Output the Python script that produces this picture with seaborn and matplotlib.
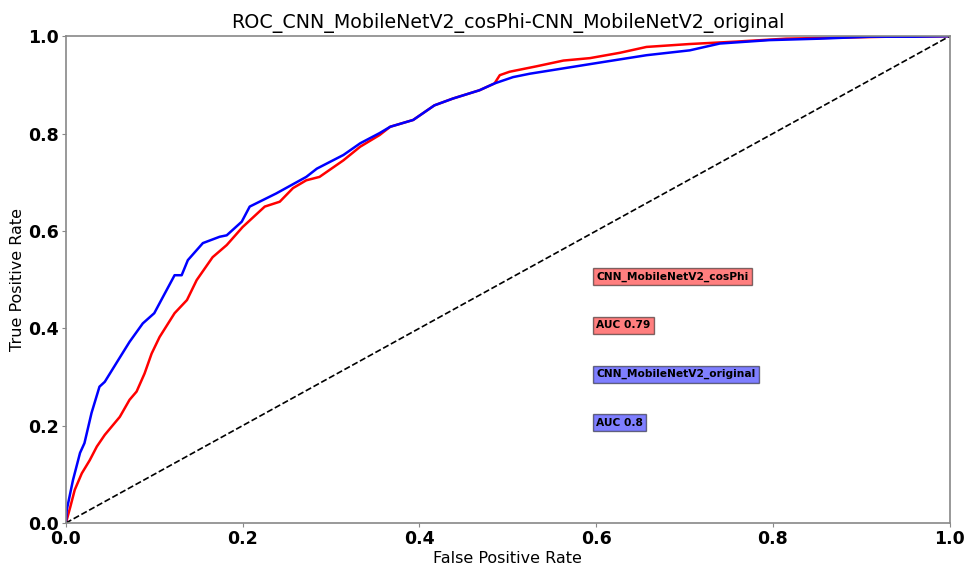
import matplotlib
matplotlib.use('Agg')
import matplotlib.pyplot as plt
import seaborn as sns
import pandas as pd

sns.set_style("white")
plt.rcParams['font.family'] = ['DejaVu Sans']
plt.rcParams['text.color'] = 'black'
plt.rcParams['axes.labelcolor'] = 'black'

# ROC curve values
fpr_cosphi = [0.0, 0.005, 0.010, 0.018, 0.027, 0.035, 0.044, 0.061, 0.072, 0.080,
              0.089, 0.097, 0.106, 0.123, 0.137, 0.148, 0.166, 0.182, 0.200, 0.225,
              0.242, 0.257, 0.272, 0.287, 0.314, 0.333, 0.355, 0.367, 0.393, 0.417,
              0.438, 0.468, 0.485, 0.491, 0.502, 0.532, 0.563, 0.593, 0.627, 0.657,
              0.706, 0.759, 0.815, 0.872, 0.930, 1.0]
tpr_cosphi = [0.0, 0.033, 0.068, 0.102, 0.129, 0.157, 0.181, 0.218, 0.253, 0.270,
              0.307, 0.348, 0.382, 0.431, 0.458, 0.499, 0.546, 0.571, 0.608, 0.650,
              0.660, 0.688, 0.704, 0.711, 0.745, 0.773, 0.797, 0.814, 0.828, 0.858,
              0.872, 0.889, 0.903, 0.920, 0.927, 0.938, 0.950, 0.955, 0.966, 0.978,
              0.984, 0.989, 0.995, 0.997, 0.999, 1.0]

fpr_original = [0.0, 0.001, 0.008, 0.016, 0.021, 0.029, 0.038, 0.044, 0.059, 0.072,
                0.087, 0.100, 0.110, 0.123, 0.131, 0.138, 0.155, 0.174, 0.182, 0.199,
                0.208, 0.238, 0.272, 0.284, 0.314, 0.333, 0.355, 0.367, 0.393, 0.417,
                0.438, 0.468, 0.485, 0.506, 0.525, 0.563, 0.608, 0.657, 0.706, 0.740,
                0.796, 0.853, 0.910, 0.960, 1.0]
tpr_original = [0.0, 0.027, 0.088, 0.144, 0.164, 0.226, 0.280, 0.290, 0.334, 0.372,
                0.410, 0.431, 0.465, 0.509, 0.509, 0.540, 0.575, 0.588, 0.591, 0.619,
                0.650, 0.677, 0.711, 0.728, 0.756, 0.780, 0.801, 0.814, 0.828, 0.858,
                0.872, 0.889, 0.903, 0.916, 0.923, 0.934, 0.947, 0.961, 0.971, 0.985,
                0.992, 0.995, 0.999, 0.999, 1.0]

chance = [0.0, 1.0]

model_names = ["CNN_MobileNetV2_cosPhi", "CNN_MobileNetV2_original"]
auc_values = ["0.79", "0.8"]

df_cos = pd.DataFrame({"fpr": fpr_cosphi, "tpr": tpr_cosphi})
df_orig = pd.DataFrame({"fpr": fpr_original, "tpr": tpr_original})

fig = plt.figure(figsize=(9.69, 5.66), dpi=100)
ax = fig.add_axes([0.068, 0.076, 0.912, 0.860])

sns.lineplot(data=df_cos, x="fpr", y="tpr", color="red", linewidth=1.8,
             sort=False, estimator=None, ax=ax)
sns.lineplot(data=df_orig, x="fpr", y="tpr", color="blue", linewidth=1.8,
             sort=False, estimator=None, ax=ax)
ax.plot(chance, chance, color="black", linestyle="--", linewidth=1.2)

ax.set_xlim(0, 1)
ax.set_ylim(0, 1)
ax.set_xlabel("False Positive Rate", fontsize=11.5, labelpad=2)
ax.set_ylabel("True Positive Rate", fontsize=11.5, labelpad=2)
ax.set_title("ROC_CNN_MobileNetV2_cosPhi-CNN_MobileNetV2_original", fontsize=13.7)

ax.tick_params(axis="both", labelsize=12.5, length=3, color="#888888", direction="out",
               labelcolor="black", pad=2, bottom=True, left=True)
for lbl in ax.get_xticklabels() + ax.get_yticklabels():
    lbl.set_fontweight("bold")
for s in ax.spines.values():
    s.set_color("#888888")
    s.set_linewidth(1.2)

box_colors = ["red", "blue"]
y_pos = [0.5, 0.4, 0.3, 0.2]
for i, (name, auc) in enumerate(zip(model_names, auc_values)):
    for j, txt in enumerate([name, "AUC " + auc]):
        ax.text(0.6, y_pos[2 * i + j], txt, fontsize=7.7, fontweight="bold",
                bbox=dict(facecolor=box_colors[i], alpha=0.5, edgecolor="black",
                          pad=2.5))

fig.savefig("out.png", dpi=100)
plt.close()
